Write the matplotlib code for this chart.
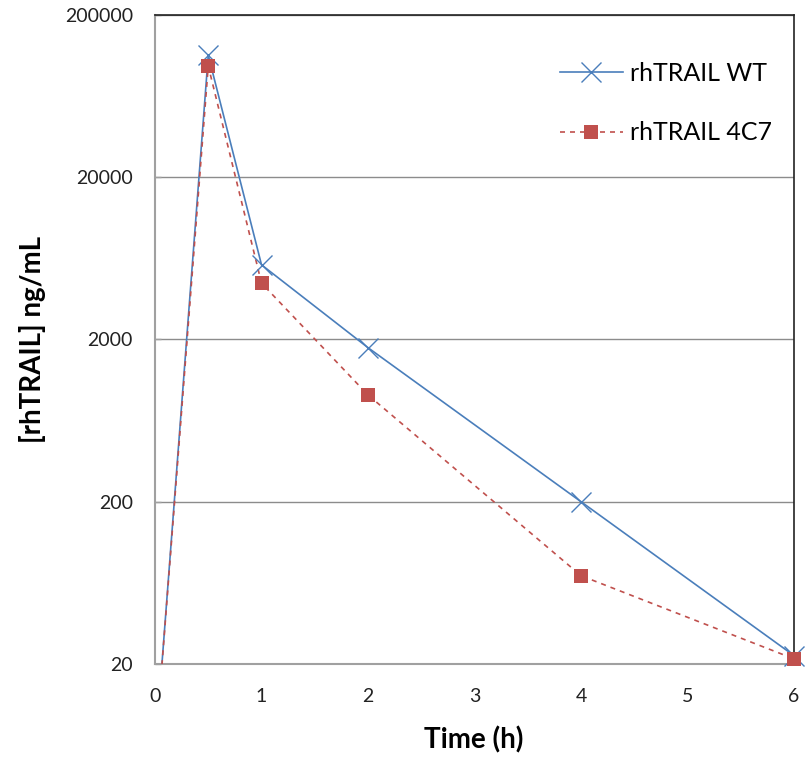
import matplotlib
matplotlib.use("Agg")
import matplotlib.pyplot as plt
from matplotlib.ticker import FixedLocator, NullLocator

plt.rcParams["font.family"] = ["Lato", "DejaVu Sans"]

# sampling times (h); the first point lies below the axis floor and is clipped
time_h = [0, 0.5, 1, 2, 4, 6]
wt_conc = [5.5, 113000, 5770, 1780, 200, 22.5]
c47_conc = [5.5, 97000, 4450, 910, 70, 21.5]

y_ticks = [20, 200, 2000, 20000, 200000]
y_tick_labels = ["20", "200", "2000", "20000", "200000"]
x_ticks = [0, 1, 2, 3, 4, 5, 6]

blue = "#4A7EBB"
red = "#C0504D"


def main() -> None:
    fig = plt.figure(figsize=(8.09, 7.57), dpi=100)
    ax = fig.add_axes([0.1916, 0.1229, 0.7899, 0.8573])

    ax.set_yscale("log")
    ax.set_xlim(0, 6)
    ax.set_ylim(20, 200000)

    ax.yaxis.set_major_locator(FixedLocator(y_ticks))
    ax.yaxis.set_minor_locator(NullLocator())
    ax.set_yticklabels(y_tick_labels)
    ax.set_xticks(x_ticks)

    ax.grid(axis="y", color="#8c8c8c", linewidth=1.0)
    ax.set_axisbelow(True)

    # lines are clipped to the axes, markers are not (as in the source)
    ax.plot(time_h, wt_conc, color=blue, linewidth=1.2, zorder=3)
    ax.plot(time_h, c47_conc, color=red, linewidth=1.2,
            linestyle=(0, (3, 3)), zorder=4)
    ax.plot(time_h[1:], wt_conc[1:], linestyle="none", color=blue,
            marker="x", markersize=14, markeredgewidth=1.0,
            clip_on=False, zorder=5)
    ax.plot(time_h[1:], c47_conc[1:], linestyle="none", color=red,
            marker="s", markersize=10, markeredgewidth=0,
            clip_on=False, zorder=6)

    # legend proxies
    ax.plot([], [], color=blue, linewidth=1.2, marker="x", markersize=14,
            markeredgewidth=1.0, label="rhTRAIL WT")
    ax.plot([], [], color=red, linewidth=1.2, linestyle=(0, (3, 3)),
            marker="s", markersize=10, markeredgewidth=0,
            label="rhTRAIL 4C7")

    for side in ("left", "bottom"):
        ax.spines[side].set_color("#a0a0a0")
        ax.spines[side].set_linewidth(1.5)
    for side in ("top", "right"):
        ax.spines[side].set_color("#222222")
        ax.spines[side].set_linewidth(1.2)

    ax.tick_params(axis="x", length=0, pad=17, labelsize=14, colors="#222222")
    ax.tick_params(axis="y", direction="in", length=4, width=1,
                   color="#a0a0a0", pad=16, labelsize=14, labelcolor="#222222")

    ax.set_xlabel("Time (h)", fontsize=20, fontweight="bold", va="center")
    ax.set_ylabel("[rhTRAIL] ng/mL", fontsize=20, fontweight="bold",
                  va="center")
    ax.xaxis.set_label_coords(0.499, -0.117)
    ax.yaxis.set_label_coords(-0.191, 0.5)

    ax.legend(
        loc="upper right",
        bbox_to_anchor=(1.0, 0.962),
        frameon=False,
        fontsize=18,
        handlelength=2.5,
        labelspacing=1.45,
        handletextpad=0.28,
    )

    fig.savefig("out.png", dpi=100)


if __name__ == "__main__":
    main()
